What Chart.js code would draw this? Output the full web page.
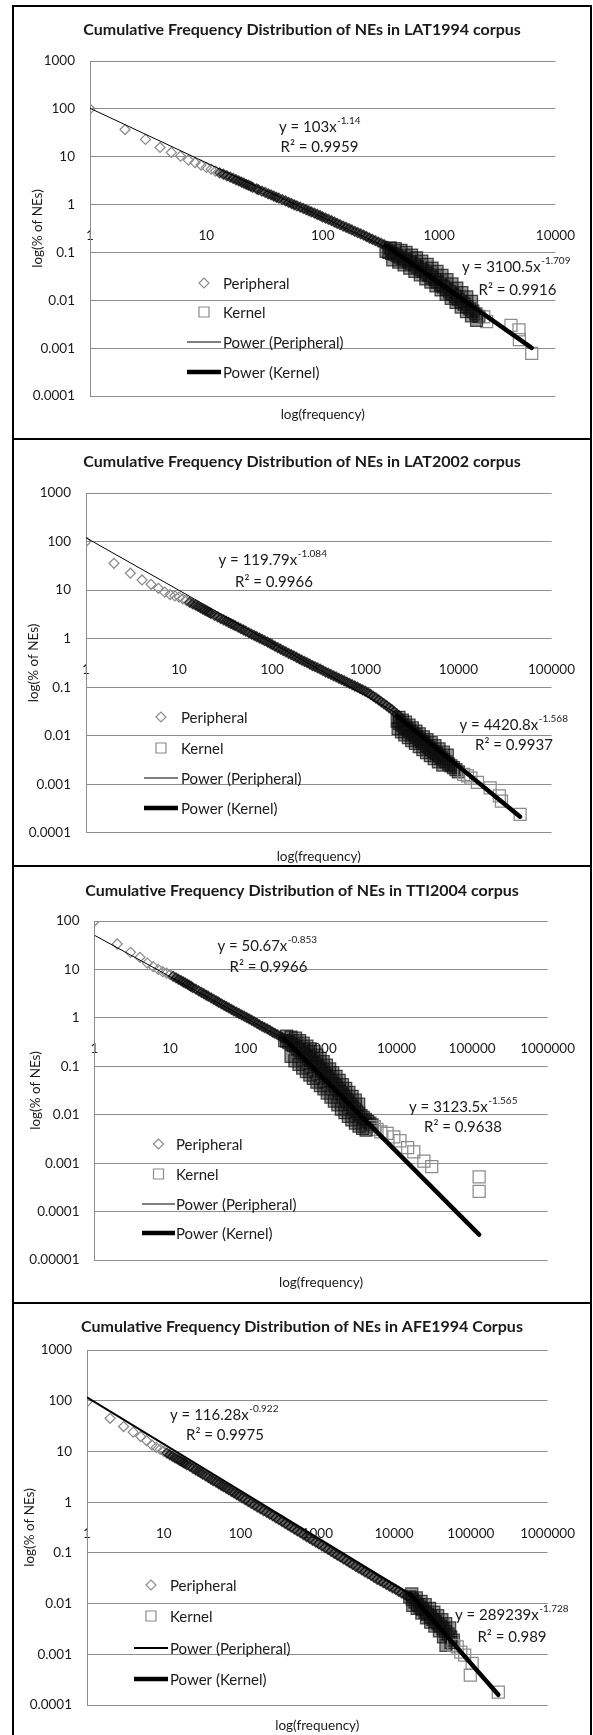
<!DOCTYPE html>
<html>
<head>
<meta charset="utf-8">
<title>Cumulative Frequency Distribution of NEs</title>
<script src="https://cdn.jsdelivr.net/npm/chart.js"></script>
<style>
  html, body { margin: 0; padding: 0; background: #fff; }
  body { width: 593px; height: 1735px; position: relative; overflow: hidden; }
  .frame { position: absolute; left: 12px; top: 5px; width: 576px; height: 1740px; border: 2px solid #000; }
  .sep { position: absolute; left: 12px; width: 580px; height: 2px; background: #000; }
  canvas { position: absolute; left: 14px; }
</style>
</head>
<body>
<div class="frame"></div>
<div class="sep" style="top:438px"></div>
<div class="sep" style="top:865px"></div>
<div class="sep" style="top:1302px"></div>
<canvas id="c1" width="576" height="431" style="top:7px"></canvas>
<canvas id="c2" width="576" height="425" style="top:440px"></canvas>
<canvas id="c3" width="576" height="435" style="top:867px"></canvas>
<canvas id="c4" width="576" height="431" style="top:1304px"></canvas>
<script>
const legendLabels = ['Peripheral', 'Kernel', 'Power (Peripheral)', 'Power (Kernel)'];
const xTitle = 'log(frequency)';
const yTitle = 'log(% of NEs)';

// LAT1994
const lat94Title = 'Cumulative Frequency Distribution of NEs in LAT1994 corpus';
const lat94XTicks = [1, 10, 100, 1000, 10000];
const lat94YTicks = [0.0001, 0.001, 0.01, 0.1, 1, 10, 100, 1000];
const lat94PerX = [1, 2, 3, 4, 5, 6, 7, 8, 9, 10, 11, 12, 13, 14, 15, 16, 17, 18, 19, 20, 21, 22, 23, 24, 25,
  27, 28, 30, 32, 34, 36, 38, 40, 42, 45, 48, 51, 54, 57, 60, 64, 68, 72, 76, 80, 85, 90, 95, 100, 106,
  112, 119, 126, 133, 141, 150, 159, 168, 178, 189, 200, 212, 225, 238, 252, 267, 283, 300, 318, 337, 357, 378, 400];
const lat94PerY = [100, 37, 23, 15.6, 12.3, 10.3, 8.5, 7.5, 6.7, 6.0, 5.5, 5.0, 4.6, 4.3, 4.0, 3.75, 3.52, 3.3, 3.12, 2.95, 2.8, 2.65, 2.54, 2.42, 2.3,
  2.13, 2.05, 1.9, 1.8, 1.68, 1.6, 1.5, 1.42, 1.36, 1.27, 1.19, 1.11, 1.05, 0.99, 0.94, 0.88, 0.83, 0.78, 0.74, 0.7, 0.66, 0.62, 0.585, 0.55, 0.52,
  0.49, 0.46, 0.43, 0.405, 0.38, 0.355, 0.335, 0.315, 0.295, 0.275, 0.26, 0.245, 0.23, 0.215, 0.2, 0.188, 0.176, 0.165, 0.155, 0.145, 0.135, 0.125, 0.115];
const lat94KerX = [350, 370, 390, 410, 435, 460, 490, 520, 550, 580, 615, 650, 690, 730, 775, 820, 870, 920, 975, 1030,
  1090, 1160, 1230, 1300, 1380, 1460, 1550, 1640, 1740, 1840, 1950, 2070, 2200, 2420, 2560, 4150, 4860, 4900, 6250,
  380, 420, 470, 520, 580, 640, 710, 790, 870, 960, 1060, 1170, 1290, 1420, 1570, 1730, 1900,
  400, 450, 500, 560, 620, 690, 770, 850, 940, 1040, 1150, 1270, 1400, 1550, 1720, 1900, 2100];
const lat94KerY = [0.105, 0.1, 0.096, 0.092, 0.086, 0.08, 0.074, 0.069, 0.064, 0.06, 0.055, 0.05, 0.045, 0.041, 0.037, 0.033, 0.03, 0.027, 0.024, 0.021,
  0.019, 0.017, 0.015, 0.0135, 0.012, 0.0105, 0.0093, 0.0083, 0.0074, 0.0066, 0.0059, 0.0052, 0.0046, 0.0045, 0.0036, 0.003, 0.0024, 0.0015, 0.00078,
  0.125, 0.12, 0.11, 0.1, 0.088, 0.077, 0.066, 0.056, 0.047, 0.04, 0.033, 0.027, 0.022, 0.018, 0.0145, 0.0118, 0.0095,
  0.07, 0.063, 0.055, 0.047, 0.04, 0.034, 0.028, 0.024, 0.02, 0.0165, 0.0135, 0.011, 0.009, 0.0072, 0.0058, 0.0047, 0.0038];
const lat94PerFitX = [1, 400];
const lat94PerFitY = [103, 0.111];
const lat94KerFitX = [350, 6250];
const lat94KerFitY = [0.139, 0.00101];
const lat94Eqs = [['y = 103x', '-1.14', 'R² = 0.9959'], ['y = 3100.5x', '-1.709', 'R² = 0.9916']];

// LAT2002
const lat02Title = 'Cumulative Frequency Distribution of NEs in LAT2002 corpus';
const lat02XTicks = [1, 10, 100, 1000, 10000, 100000];
const lat02YTicks = [0.0001, 0.001, 0.01, 0.1, 1, 10, 100, 1000];
const lat02PerX = [1, 2, 3, 4, 5, 6, 7, 8, 9, 10, 11, 12, 13, 14, 15, 16, 17, 18, 19, 20, 21, 22,
  24, 26, 28, 30, 32, 34, 36, 38, 40, 43, 46, 49, 52, 56, 60, 64, 68, 73, 78, 83, 89, 95, 100, 107, 115, 123, 131, 140, 150,
  160, 171, 183, 195, 208, 222, 237, 253, 270, 288, 308, 329, 351, 375, 400, 427, 456, 487, 520, 555,
  593, 633, 676, 722, 771, 823, 879, 938, 1000, 1070, 1140, 1220, 1300, 1390, 1480, 1580, 1690, 1800, 1920, 2050, 2190, 2300];
const lat02PerY = [100, 35.7, 22.3, 16.2, 13.2, 10.9, 9.1, 8.1, 7.6, 7.2, 6.6, 6.1, 5.6, 5.2, 4.9, 4.6, 4.3, 4.05, 3.85, 3.65, 3.47, 3.3,
  3.02, 2.8, 2.6, 2.45, 2.3, 2.17, 2.05, 1.95, 1.85, 1.72, 1.61, 1.52, 1.43, 1.33, 1.24, 1.17, 1.1, 1.03, 0.97, 0.91, 0.85, 0.8, 0.75, 0.7, 0.65, 0.61, 0.57, 0.535, 0.5,
  0.47, 0.44, 0.41, 0.385, 0.36, 0.34, 0.32, 0.3, 0.28, 0.265, 0.25, 0.235, 0.22, 0.205, 0.195, 0.183, 0.172, 0.163, 0.153, 0.144,
  0.136, 0.128, 0.12, 0.113, 0.106, 0.1, 0.094, 0.088, 0.083, 0.077, 0.071, 0.065, 0.06, 0.055, 0.05, 0.046, 0.042, 0.038, 0.035, 0.031, 0.028, 0.026];
const lat02KerX = [2200, 2340, 2480, 2640, 2800, 2980, 3160, 3360, 3570, 3790, 4030, 4280, 4550, 4830, 5130, 5450,
  5790, 6150, 6540, 6950, 7380, 7840, 8330, 8850, 9400, 10000, 11400, 12500, 13600, 16000, 21900, 27500, 29000, 46000,
  2300, 2500, 2700, 2950, 3200, 3500, 3800, 4200, 4600, 5100, 5600, 6200, 6900, 7600,
  2250, 2450, 2650, 2900, 3150, 3450, 3800, 4150, 4550, 5000, 5500, 6100, 6800];
const lat02KerY = [0.02, 0.018, 0.0165, 0.015, 0.0138, 0.0126, 0.0114, 0.0104, 0.0094, 0.0085, 0.0077, 0.007, 0.0063, 0.0057, 0.0052, 0.0047,
  0.0043, 0.0039, 0.0035, 0.0032, 0.0029, 0.0026, 0.0024, 0.0022, 0.002, 0.0018, 0.0016, 0.0015, 0.00135, 0.0011, 0.00085, 0.00058, 0.00045, 0.00024,
  0.024, 0.021, 0.019, 0.0165, 0.0145, 0.0125, 0.011, 0.0095, 0.0083, 0.0072, 0.0063, 0.0054, 0.0046, 0.004,
  0.014, 0.012, 0.0105, 0.0092, 0.008, 0.007, 0.006, 0.0052, 0.0045, 0.0039, 0.0034, 0.0029, 0.0025];
const lat02PerFitX = [1, 2300];
const lat02PerFitY = [119.79, 0.0272];
const lat02KerFitX = [2200, 46000];
const lat02KerFitY = [0.0254, 0.000216];
const lat02Eqs = [['y = 119.79x', '-1.084', 'R² = 0.9966'], ['y = 4420.8x', '-1.568', 'R² = 0.9937']];

// TTI2004
const tti04Title = 'Cumulative Frequency Distribution of NEs in TTI2004 corpus';
const tti04XTicks = [1, 10, 100, 1000, 10000, 100000, 1000000];
const tti04YTicks = [0.00001, 0.0001, 0.001, 0.01, 0.1, 1, 10, 100];
const tti04PerX = [1, 2, 3, 4, 5, 6, 7, 8, 9, 10, 11, 12, 13, 14, 15, 16, 17, 18, 19, 20,
  22, 24, 26, 28, 30, 32, 35, 38, 41, 44, 48, 52, 56, 60, 65, 70, 76, 82, 89, 96,
  104, 112, 121, 131, 142, 153, 166, 179, 194, 210, 227, 245, 265, 287, 310, 330];
const tti04PerY = [100, 33.5, 22.5, 17.8, 13.5, 11.4, 10, 9.0, 8.4, 7.8, 7.2, 6.7, 6.25, 5.85, 5.5, 5.2, 4.95, 4.7, 4.45, 4.2,
  3.9, 3.6, 3.35, 3.15, 2.95, 2.8, 2.58, 2.4, 2.25, 2.1, 1.95, 1.82, 1.7, 1.6, 1.5, 1.4, 1.31, 1.23, 1.15, 1.08,
  1.01, 0.95, 0.89, 0.83, 0.77, 0.72, 0.67, 0.63, 0.59, 0.55, 0.51, 0.48, 0.45, 0.42, 0.39, 0.37];
const tti04KerX = [330, 350, 375, 400, 430, 460, 490, 525, 560, 600, 640, 685, 730, 780, 835, 890, 950, 1020, 1090, 1160,
  1240, 1330, 1420, 1520, 1620, 1730, 1850, 1980, 2120, 2260, 2420, 2590, 2770, 2960, 3160, 3380, 3620, 3870, 4140, 4430,
  4740, 5070, 5500, 6200, 7500, 9200, 11100, 14000, 16900, 23000, 29200, 124000, 124000,
  350, 400, 460, 520, 580, 650, 720, 800, 880, 970, 1070, 1180, 1300, 1430, 1580, 1740, 1920, 2120, 2340, 2580, 2850, 3150,
  400, 450, 510, 570, 640, 710, 790, 880, 980, 1090, 1210, 1350, 1500, 1670, 1860, 2070, 2300, 2560, 2850, 3180, 3550, 3950];
const tti04KerY = [0.34, 0.33, 0.31, 0.29, 0.27, 0.25, 0.23, 0.21, 0.19, 0.172, 0.158, 0.145, 0.132, 0.12, 0.108, 0.098, 0.088, 0.079, 0.071, 0.064,
  0.057, 0.051, 0.045, 0.04, 0.035, 0.031, 0.027, 0.024, 0.021, 0.0185, 0.0163, 0.0145, 0.013, 0.0117, 0.0106, 0.0096, 0.0088, 0.008, 0.0073, 0.0067,
  0.0062, 0.0057, 0.005, 0.0044, 0.0041, 0.0035, 0.0029, 0.0021, 0.0017, 0.0011, 0.00085, 0.00052, 0.00026,
  0.42, 0.4, 0.38, 0.34, 0.3, 0.26, 0.23, 0.2, 0.17, 0.145, 0.125, 0.105, 0.088, 0.074, 0.062, 0.051, 0.042, 0.035, 0.029, 0.024, 0.02, 0.0165,
  0.16, 0.13, 0.11, 0.092, 0.078, 0.066, 0.056, 0.047, 0.04, 0.034, 0.028, 0.023, 0.019, 0.016, 0.013, 0.011, 0.0092, 0.0078, 0.0067, 0.0058, 0.0052, 0.0048];
const tti04PerFitX = [1, 330];
const tti04PerFitY = [50.67, 0.36];
const tti04KerFitX = [330, 124000];
const tti04KerFitY = [0.358, 0.0000334];
const tti04Eqs = [['y = 50.67x', '-0.853', 'R² = 0.9966'], ['y = 3123.5x', '-1.565', 'R² = 0.9638']];

// AFE1994
const afe94Title = 'Cumulative Frequency Distribution of NEs in AFE1994 Corpus';
const afe94XTicks = [1, 10, 100, 1000, 10000, 100000, 1000000];
const afe94YTicks = [0.0001, 0.001, 0.01, 0.1, 1, 10, 100, 1000];
const afe94PerX = [1, 2, 3, 4, 5, 6, 7, 8, 9, 10, 11, 12, 13, 14, 15, 16, 17, 18, 19, 20,
  22, 24, 26, 28, 30, 32, 35, 38, 41, 44, 48, 52, 56, 60, 65, 70, 76, 82, 89, 96,
  105, 115, 126, 138, 151, 166, 182, 200, 219, 240, 263, 288, 316, 347, 380, 417, 457, 501, 549, 602,
  660, 724, 794, 870, 955, 1047, 1148, 1259, 1380, 1514, 1660, 1820, 1995, 2188, 2399, 2630, 2884, 3162, 3467, 3802,
  4169, 4571, 5012, 5495, 6026, 6607, 7244, 7943, 8710, 9550, 10470, 11480, 12590, 13800, 15000];
const afe94PerY = [95, 45, 31, 24, 19.7, 16.2, 13.5, 12, 11, 10, 9.3, 8.6, 8.0, 7.5, 7.1, 6.7, 6.35, 6.05, 5.75, 5.5,
  5.05, 4.65, 4.35, 4.05, 3.8, 3.58, 3.3, 3.05, 2.85, 2.67, 2.47, 2.3, 2.15, 2.02, 1.88, 1.76, 1.63, 1.52, 1.41, 1.32,
  1.22, 1.12, 1.03, 0.95, 0.87, 0.8, 0.74, 0.68, 0.63, 0.58, 0.535, 0.49, 0.45, 0.415, 0.38, 0.35, 0.32, 0.295, 0.27, 0.25,
  0.23, 0.21, 0.193, 0.177, 0.163, 0.15, 0.138, 0.127, 0.117, 0.107, 0.098, 0.09, 0.083, 0.076, 0.07, 0.064, 0.059, 0.054, 0.05, 0.046,
  0.042, 0.039, 0.036, 0.033, 0.03, 0.028, 0.026, 0.024, 0.022, 0.0205, 0.019, 0.0175, 0.016, 0.015, 0.014];
const afe94KerX = [16000, 17300, 18700, 20200, 21800, 23500, 25400, 27400, 29600, 32000, 34500, 37300, 40300, 43500, 47000, 50700,
  54800, 59200, 66400, 74000, 83200, 104000, 98400, 228000,
  17000, 19500, 22500, 25500, 29000, 33000, 37000, 42000, 47000, 53000,
  17500, 20000, 23000, 26500, 30000, 34000, 39000, 44000, 47400, 55000, 60000];
const afe94KerY = [0.0135, 0.012, 0.0107, 0.0095, 0.0085, 0.0076, 0.0068, 0.0061, 0.0055, 0.0049, 0.0044, 0.004, 0.0036, 0.0032, 0.0028, 0.0025,
  0.0022, 0.0019, 0.0014, 0.0011, 0.00096, 0.00066, 0.00039, 0.00018,
  0.0155, 0.013, 0.011, 0.0095, 0.008, 0.0068, 0.0058, 0.0048, 0.004, 0.0033,
  0.0092, 0.008, 0.0065, 0.0052, 0.0043, 0.0036, 0.0029, 0.0022, 0.0015, 0.0017, 0.0015];
const afe94PerFitX = [1, 15000];
const afe94PerFitY = [116.28, 0.0164];
const afe94KerFitX = [16000, 228000];
const afe94KerFitY = [0.0157, 0.000159];
const afe94Eqs = [['y = 116.28x', '-0.922', 'R² = 0.9975'], ['y = 289239x', '-1.728', 'R² = 0.989']];

const FONT = 'Lato, "Open Sans", sans-serif';
Chart.defaults.font.family = FONT;
Chart.defaults.color = '#1a1a1a';

// lone markers stay light grey; where hundreds of them pile up the original turns almost black
const loneMark = '#8c8c8c';
const pileMark = 'rgba(15,15,15,0.72)';
const pileFill = 'rgba(15,15,15,0.42)';

function toPoints(xs, ys) {
  return xs.map((x, i) => ({ x: x, y: ys[i] }));
}

// legend + trendline equations, drawn inside the plot like the Excel original
const overlayPlugin = {
  id: 'neOverlay',
  afterDraw(chart, args, o) {
    const ctx = chart.ctx;
    ctx.save();
    ctx.fillStyle = '#1a1a1a';
    ctx.textBaseline = 'middle';
    o.eqs.forEach((eq, i) => {
      const p = o.eqPos[i];
      ctx.font = '15px ' + FONT;
      const w1 = ctx.measureText(eq[0]).width;
      ctx.font = '10px ' + FONT;
      const w2 = ctx.measureText(eq[1]).width;
      const x = p[0] - (w1 + w2) / 2;
      ctx.textAlign = 'left';
      ctx.font = '15px ' + FONT;
      ctx.fillText(eq[0], x, p[1]);
      ctx.font = '10px ' + FONT;
      ctx.fillText(eq[1], x + w1 + 0.5, p[1] - 6);
      ctx.font = '15px ' + FONT;
      ctx.textAlign = 'center';
      ctx.fillText(eq[2], p[2], p[3]);
    });
    const lg = o.legend;
    const mid = (lg.x0 + lg.x1) / 2;
    chart.data.datasets.forEach((ds, i) => {
      const y = lg.ys[i];
      ctx.beginPath();
      if (ds.showLine) {
        ctx.strokeStyle = '#000';
        ctx.lineWidth = ds.borderWidth;
        ctx.moveTo(lg.x0, y);
        ctx.lineTo(lg.x1, y);
      } else if (ds.pointStyle === 'rectRot') {
        ctx.strokeStyle = loneMark;
        ctx.lineWidth = 1.2;
        ctx.moveTo(mid - 5, y);
        ctx.lineTo(mid, y - 5);
        ctx.lineTo(mid + 5, y);
        ctx.lineTo(mid, y + 5);
        ctx.closePath();
      } else {
        ctx.strokeStyle = loneMark;
        ctx.lineWidth = 1.2;
        ctx.rect(mid - 5, y - 5, 10, 10);
      }
      ctx.stroke();
      ctx.textAlign = 'left';
      ctx.font = '15px ' + FONT;
      ctx.fillText(ds.label, lg.tx, y + 1);
    });
    ctx.restore();
  }
};

function buildChart(p) {
  const b = p.box;
  const H = document.getElementById(p.id).height;
  const tLh = 16 * 1.2, sLh = 13.5 * 1.2, yLh = 13.5 * 1.2;
  const subTop = p.xTitleY - b.bottom - sLh / 2;
  const subBottom = Math.max(0, H - b.bottom - subTop - sLh);
  const perPile = c => c.raw && c.raw.x > p.perLoneMax;
  const kerPile = c => c.raw && c.raw.x < p.kerLoneMin;
  return new Chart(document.getElementById(p.id), {
    type: 'scatter',
    data: {
      datasets: [
        { label: legendLabels[0], data: toPoints(p.perX, p.perY), pointStyle: 'rectRot', pointRadius: 5, pointBorderWidth: 1.25,
          pointBorderColor: c => perPile(c) ? pileMark : loneMark,
          pointBackgroundColor: c => perPile(c) ? pileFill : 'rgba(0,0,0,0)', order: 2 },
        { label: legendLabels[1], data: toPoints(p.kerX, p.kerY), pointStyle: 'rect', pointRadius: 8.5, pointBorderWidth: 1.25,
          pointBorderColor: c => kerPile(c) ? pileMark : loneMark,
          pointBackgroundColor: c => kerPile(c) ? pileFill : 'rgba(0,0,0,0)', order: 2 },
        { label: legendLabels[2], data: toPoints(p.perFitX, p.perFitY), showLine: true, pointRadius: 0,
          borderColor: '#000', borderWidth: p.perFitWidth, order: 1 },
        { label: legendLabels[3], data: toPoints(p.kerFitX, p.kerFitY), showLine: true, pointRadius: 0,
          borderColor: '#000', borderWidth: 4.5, borderCapStyle: 'round', order: 0 }
      ]
    },
    options: {
      responsive: false,
      animation: false,
      devicePixelRatio: 1,
      events: [],
      layout: { padding: 0 },
      scales: {
        x: {
          type: 'logarithmic',
          min: p.xTicks[0],
          max: p.xTicks[p.xTicks.length - 1],
          position: { y: 1 },
          afterBuildTicks: s => { s.ticks = p.xTicks.map(v => ({ value: v })); },
          ticks: { callback: (v, i) => String(p.xTicks[i]), padding: 15, font: { size: 13.5 }, autoSkip: false, maxRotation: 0 },
          grid: { display: false },
          border: { display: false }
        },
        y: {
          type: 'logarithmic',
          position: 'left',
          min: p.yTicks[0],
          max: p.yTicks[p.yTicks.length - 1],
          afterBuildTicks: s => { s.ticks = p.yTicks.map(v => ({ value: v })); },
          ticks: { callback: (v, i) => String(p.yTicks[i]), padding: 15, font: { size: 13.5 } },
          grid: { color: '#8c8c8c', lineWidth: 1, drawTicks: false },
          border: { color: '#8c8c8c', width: 1 },
          title: { display: true, text: yTitle, font: { size: 13.5 }, padding: { top: p.yTitleX - yLh / 2, bottom: 0 } },
          afterFit: s => { s.width = b.left; }
        },
        yR: {
          type: 'linear',
          position: 'right',
          ticks: { display: false },
          grid: { display: false },
          border: { display: false },
          afterFit: s => { s.width = b.right; }
        }
      },
      plugins: {
        legend: { display: false },
        tooltip: { enabled: false },
        title: {
          display: true, text: p.title, color: '#1a1a1a',
          font: { size: 16, weight: 'bold' },
          padding: { top: p.titleY - tLh / 2, bottom: b.top - p.titleY - tLh / 2 }
        },
        subtitle: {
          display: true, text: xTitle, position: 'bottom', fullSize: false, color: '#1a1a1a',
          font: { size: 13.5 },
          padding: { top: subTop, bottom: subBottom }
        },
        neOverlay: { eqs: p.eqs, eqPos: p.eqPos, legend: p.legend }
      }
    },
    plugins: [overlayPlugin]
  });
}

buildChart({
  id: 'c1', title: lat94Title, xTicks: lat94XTicks, yTicks: lat94YTicks,
  perX: lat94PerX, perY: lat94PerY, kerX: lat94KerX, kerY: lat94KerY,
  perFitX: lat94PerFitX, perFitY: lat94PerFitY, kerFitX: lat94KerFitX, kerFitY: lat94KerFitY, perFitWidth: 1,
  perLoneMax: 12, kerLoneMin: 2300, eqs: lat94Eqs,
  box: { left: 76, right: 29, top: 54, bottom: 389 }, titleY: 23, xTitleY: 408, yTitleX: 24,
  eqPos: [[305.5, 120, 305.5, 140], [502, 260, 503.5, 283]],
  legend: { x0: 173, x1: 207, tx: 209, ys: [276, 305, 335, 365] }
});

buildChart({
  id: 'c2', title: lat02Title, xTicks: lat02XTicks, yTicks: lat02YTicks,
  perX: lat02PerX, perY: lat02PerY, kerX: lat02KerX, kerY: lat02KerY,
  perFitX: lat02PerFitX, perFitY: lat02PerFitY, kerFitX: lat02KerFitX, kerFitY: lat02KerFitY, perFitWidth: 1,
  perLoneMax: 12, kerLoneMin: 11000, eqs: lat02Eqs,
  box: { left: 72, right: 33, top: 53, bottom: 393 }, titleY: 22, xTitleY: 417, yTitleX: 20,
  eqPos: [[258.5, 120, 260, 142], [499.5, 285, 500, 305]],
  legend: { x0: 130, x1: 164, tx: 167, ys: [277, 308, 338, 368] }
});

buildChart({
  id: 'c3', title: tti04Title, xTicks: tti04XTicks, yTicks: tti04YTicks,
  perX: tti04PerX, perY: tti04PerY, kerX: tti04KerX, kerY: tti04KerY,
  perFitX: tti04PerFitX, perFitY: tti04PerFitY, kerFitX: tti04KerFitX, kerFitY: tti04KerFitY, perFitWidth: 1,
  perLoneMax: 10, kerLoneMin: 5000, eqs: tti04Eqs,
  box: { left: 80.5, right: 38, top: 54, bottom: 393 }, titleY: 24, xTitleY: 416, yTitleX: 22,
  eqPos: [[253, 79, 254.5, 100], [449, 240, 449, 260]],
  legend: { x0: 128, x1: 161, tx: 162, ys: [277, 307, 337, 366] }
});

buildChart({
  id: 'c4', title: afe94Title, xTicks: afe94XTicks, yTicks: afe94YTicks,
  perX: afe94PerX, perY: afe94PerY, kerX: afe94KerX, kerY: afe94KerY,
  perFitX: afe94PerFitX, perFitY: afe94PerFitY, kerFitX: afe94KerFitX, kerFitY: afe94KerFitY, perFitWidth: 2,
  perLoneMax: 10, kerLoneMin: 60000, eqs: afe94Eqs,
  box: { left: 73, right: 36, top: 46, bottom: 401 }, titleY: 23, xTitleY: 422, yTitleX: 16,
  eqPos: [[210, 111, 211, 131], [497.5, 311, 498, 333]],
  legend: { x0: 120, x1: 154, tx: 156, ys: [281, 312, 344, 375] }
});
</script>
</body>
</html>
